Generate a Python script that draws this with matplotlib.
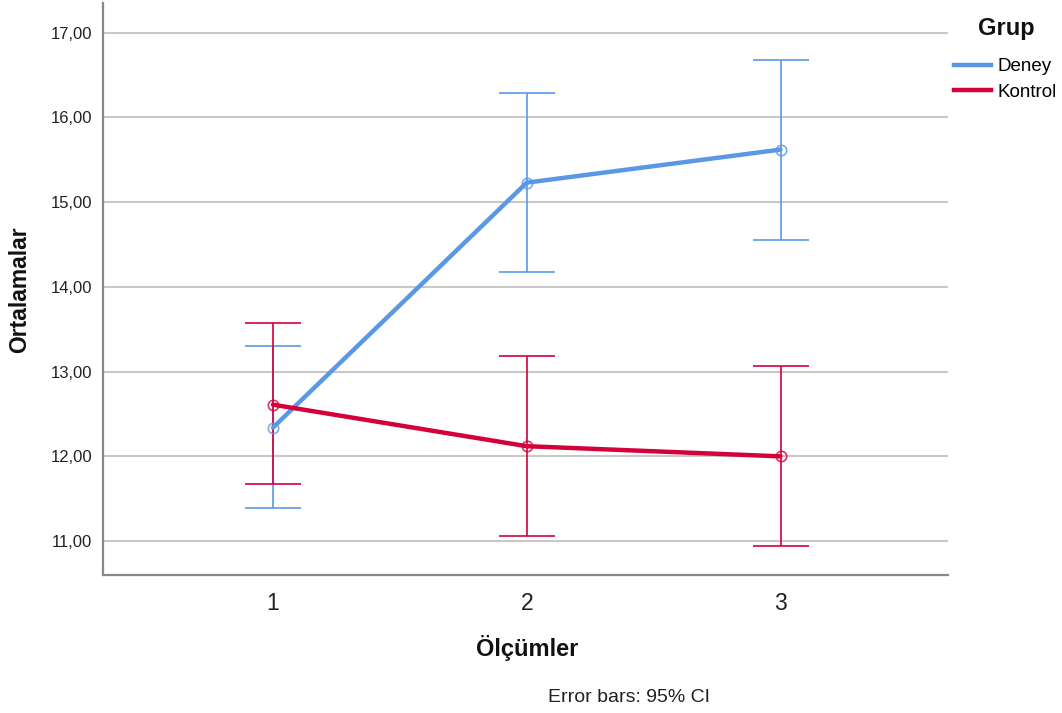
import matplotlib
matplotlib.use("Agg")
import matplotlib.pyplot as plt
from matplotlib.lines import Line2D

plt.rcParams['font.family'] = ['Liberation Sans', 'DejaVu Sans']

olcumler = [1, 2, 3]
deney_mean = [12.34, 15.23, 15.62]
deney_low = [11.39, 14.17, 14.55]
deney_high = [13.30, 16.29, 16.68]
kontrol_mean = [12.61, 12.12, 12.00]
kontrol_low = [11.67, 11.06, 10.94]
kontrol_high = [13.57, 13.19, 13.07]
yticks = [11, 12, 13, 14, 15, 16, 17]

blue = '#5A98E6'
red = '#D4003A'

fig = plt.figure(figsize=(10.62, 7.13), dpi=100)
ax = fig.add_axes([103/1062, 1-575/713, (948-103)/1062, (575-3)/713])

def draw(mean, low, high, color):
    yerr = [[m - l for m, l in zip(mean, low)], [h - m for m, h in zip(mean, high)]]
    ax.errorbar(olcumler, mean, yerr=yerr, fmt='none', ecolor=color, elinewidth=1.4,
                capsize=20.5, capthick=1.4, alpha=0.85, zorder=3)
    ax.plot(olcumler, mean, color=color, lw=3.2, zorder=4, solid_capstyle='round')
    ax.plot(olcumler, mean, 'o', mfc='none', mec=color, ms=7.5, mew=1.2, alpha=0.8, zorder=5)

draw(deney_mean, deney_low, deney_high, blue)
draw(kontrol_mean, kontrol_low, kontrol_high, red)

ax.set_xlim(0.33, 3.66)
ax.set_ylim(10.60, 17.35)
ax.set_xticks(olcumler)
ax.set_xticklabels([str(v) for v in olcumler], fontsize=16.5, color='#222222')
ax.set_yticks(yticks)
ax.set_yticklabels([f"{v:.2f}".replace('.', ',') for v in yticks], fontsize=12, color='#222222')
ax.tick_params(axis='both', length=0)
ax.tick_params(axis='y', pad=8)
ax.tick_params(axis='x', pad=12)
ax.yaxis.grid(True, color='#C8C8C8', lw=1.5)
ax.set_axisbelow(True)
for s in ['top', 'right']:
    ax.spines[s].set_visible(False)
for s in ['left', 'bottom']:
    ax.spines[s].set_color('#888888')
    ax.spines[s].set_linewidth(1.6)

fig.text(20/1062, 1-290/713, 'Ortalamalar', rotation=90, fontsize=16.5, fontweight='bold',
         ha='center', va='center', color='#111111')
fig.text(527/1062, 1-648/713, 'Ölçümler', fontsize=17, fontweight='bold',
         ha='center', va='center', color='#111111')
fig.text(629/1062, 1-697/713, 'Error bars: 95% CI', fontsize=14,
         ha='center', va='center', color='#222222')

fig.text(1006/1062, 1-28/713, 'Grup', fontsize=17, fontweight='bold',
         ha='center', va='center', color='#111111')
handles = [Line2D([], [], color=blue, lw=3.2), Line2D([], [], color=red, lw=3.2)]
leg = fig.legend(handles, ['Deney', 'Kontrol'], loc='upper left',
                 bbox_to_anchor=(954/1062, 1-58/713), frameon=False, fontsize=13.5,
                 handlelength=1.95, handletextpad=0.35, labelspacing=0.45, borderaxespad=0,
                 borderpad=0)

fig.savefig('out.png', dpi=100)
